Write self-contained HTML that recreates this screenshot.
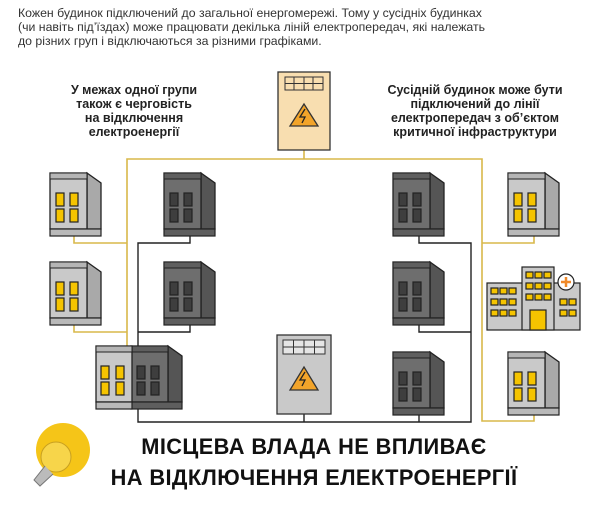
<!DOCTYPE html>
<html><head><meta charset="utf-8"><style>
body{margin:0;background:#fff;width:608px;height:512px;overflow:hidden;font-family:"Liberation Sans",sans-serif}
</style></head><body>
<svg width="608" height="512" viewBox="0 0 608 512" xmlns="http://www.w3.org/2000/svg">
<defs>
<g id="lb">
<polygon points="37,0 51,10 51,56 37,56" fill="#a9a9a9" stroke="#222" stroke-width="1.3"/>
<rect x="0" y="0" width="37" height="56" fill="#c9c9c9" stroke="#222" stroke-width="1.3"/>
<rect x="0" y="0" width="37" height="6" fill="#b5b5b5" stroke="#222" stroke-width="1"/>
<rect x="0" y="56" width="51" height="7" fill="#b9b9b9" stroke="#222" stroke-width="1.2"/>
<g fill="#f5c400" stroke="#222" stroke-width="1.2">
<rect x="6" y="20" width="8" height="13"/><rect x="20" y="20" width="8" height="13"/>
<rect x="6" y="36" width="8" height="13"/><rect x="20" y="36" width="8" height="13"/></g>
</g>
<g id="db">
<polygon points="37,0 51,10 51,56 37,56" fill="#555" stroke="#222" stroke-width="1.3"/>
<rect x="0" y="0" width="37" height="56" fill="#6e6e6e" stroke="#222" stroke-width="1.3"/>
<rect x="0" y="0" width="37" height="6" fill="#5f5f5f" stroke="#222" stroke-width="1"/>
<rect x="0" y="56" width="51" height="7" fill="#5e5e5e" stroke="#222" stroke-width="1.2"/>
<g fill="#3e3e3e" stroke="#222" stroke-width="1.2">
<rect x="6" y="20" width="8" height="13"/><rect x="20" y="20" width="8" height="13"/>
<rect x="6" y="36" width="8" height="13"/><rect x="20" y="36" width="8" height="13"/></g>
</g>
</defs>
<g font-size="12.3" fill="#333">
<text x="18" y="17">Кожен будинок підключений до загальної енергомережі. Тому у сусідніх будинках</text>
<text x="18" y="31">(чи навіть під’їздах) може працювати декілька ліній електропередач, які належать</text>
<text x="18" y="45">до різних груп і відключаються за різними графіками.</text>
</g>
<g font-size="12.5" font-weight="bold" fill="#222" text-anchor="middle">
<text x="134" y="94">У межах одної групи</text>
<text x="134" y="108">також є черговість</text>
<text x="134" y="122">на відключення</text>
<text x="134" y="136">електроенергії</text>
<text x="475" y="94">Сусідній будинок може бути</text>
<text x="475" y="108">підключений до лінії</text>
<text x="475" y="122">електропередач з об’єктом</text>
<text x="475" y="136">критичної інфраструктури</text>
</g>
<g fill="none" stroke="#d9b84a" stroke-width="1.6">
<polyline points="127,346 127,159 482,159 482,421 534,421 534,415"/>
<polyline points="74,236 74,243 127,243"/>
<polyline points="74,325 74,332 127,332"/>
<polyline points="534,236 534,243 482,243"/>
<line x1="304" y1="150" x2="304" y2="159"/>
</g>
<g fill="none" stroke="#222" stroke-width="1.4">
<polyline points="190,236 190,243 138,243 138,422 471,422 471,243 419,243 419,236"/>
<polyline points="190,325 190,332 138,332"/>
<polyline points="419,325 419,332 471,332"/>
<line x1="304" y1="414" x2="304" y2="422"/>
<line x1="419" y1="415" x2="419" y2="422"/>
</g>
<rect x="278" y="72" width="52" height="78" fill="#f8deb0" stroke="#333" stroke-width="1.3"/>
<g fill="#f8deb0" stroke="#333" stroke-width="1"><rect x="285" y="77" width="38" height="13"/>
<line x1="294" y1="77" x2="294" y2="90"/><line x1="304" y1="77" x2="304" y2="90"/><line x1="313" y1="77" x2="313" y2="90"/><line x1="285" y1="83.5" x2="323" y2="83.5"/></g>
<polygon points="304,104 318,126 290,126" fill="#f2a42a" stroke="#333" stroke-width="1.3"/>
<path d="M305,109 L300,117 L305,117 L302,123" fill="none" stroke="#222" stroke-width="1.3"/>
<rect x="277" y="335" width="54" height="79" fill="#c9c9c9" stroke="#333" stroke-width="1.3"/>
<g fill="#e5e5e5" stroke="#333" stroke-width="1"><rect x="283" y="340" width="42" height="14"/>
<line x1="293.5" y1="340" x2="293.5" y2="354"/><line x1="304" y1="340" x2="304" y2="354"/><line x1="314.5" y1="340" x2="314.5" y2="354"/><line x1="283" y1="347" x2="325" y2="347"/></g>
<polygon points="304,367 318,390 290,390" fill="#f2a42a" stroke="#333" stroke-width="1.3"/>
<path d="M305,372 L300,380 L305,380 L302,386" fill="none" stroke="#222" stroke-width="1.3"/>
<use href="#lb" x="50" y="173"/>
<use href="#lb" x="50" y="262"/>
<use href="#db" x="164" y="173"/>
<use href="#db" x="164" y="262"/>
<use href="#db" x="393" y="173"/>
<use href="#db" x="393" y="262"/>
<use href="#lb" x="508" y="173"/>
<use href="#db" x="393" y="352"/>
<use href="#lb" x="508" y="352"/>
<use href="#db" x="131" y="346"/>
<g>
<rect x="96" y="346" width="36" height="56" fill="#c9c9c9" stroke="#222" stroke-width="1.3"/>
<rect x="96" y="346" width="36" height="6" fill="#b5b5b5" stroke="#222" stroke-width="1"/>
<rect x="96" y="402" width="36" height="7" fill="#b9b9b9" stroke="#222" stroke-width="1.2"/>
<g fill="#f5c400" stroke="#222" stroke-width="1.2">
<rect x="101" y="366" width="8" height="13"/><rect x="116" y="366" width="8" height="13"/>
<rect x="101" y="382" width="8" height="13"/><rect x="116" y="382" width="8" height="13"/></g>
</g>
<g stroke="#222" stroke-width="1.2">
<rect x="487" y="283" width="93" height="47" fill="#c9c9c9"/>
<rect x="522" y="267" width="32" height="63" fill="#c9c9c9"/>
<g fill="#f5c400">
<rect x="526" y="272" width="7" height="6"/><rect x="535" y="272" width="7" height="6"/><rect x="544" y="272" width="7" height="6"/>
<rect x="526" y="283" width="7" height="6"/><rect x="535" y="283" width="7" height="6"/><rect x="544" y="283" width="7" height="6"/>
<rect x="526" y="294" width="7" height="6"/><rect x="535" y="294" width="7" height="6"/><rect x="544" y="294" width="7" height="6"/>
<rect x="491" y="288" width="7" height="6"/><rect x="500" y="288" width="7" height="6"/><rect x="509" y="288" width="7" height="6"/>
<rect x="491" y="299" width="7" height="6"/><rect x="500" y="299" width="7" height="6"/><rect x="509" y="299" width="7" height="6"/>
<rect x="491" y="310" width="7" height="6"/><rect x="500" y="310" width="7" height="6"/><rect x="509" y="310" width="7" height="6"/>
<rect x="560" y="299" width="7" height="6"/><rect x="569" y="299" width="7" height="6"/>
<rect x="560" y="310" width="7" height="6"/><rect x="569" y="310" width="7" height="6"/>
<rect x="530" y="310" width="16" height="20"/></g>
<circle cx="566" cy="282" r="8" fill="#fff"/>
</g>
<path d="M566,277 V287 M561,282 H571" stroke="#f08a2a" stroke-width="2.5"/>
<circle cx="63" cy="450" r="27" fill="#f5c518"/>
<circle cx="56" cy="457" r="15" fill="#f7d54a" stroke="#c8a020" stroke-width="1"/>
<path d="M45,466 L34,480 L40,486 L53,474" fill="#bbb" stroke="#777" stroke-width="1"/>
<g font-size="21.8" fill="#111" text-anchor="middle" font-weight="bold" letter-spacing="0.4">
<text x="314" y="454">МІСЦЕВА ВЛАДА НЕ ВПЛИВАЄ</text>
<text x="314" y="485">НА ВІДКЛЮЧЕННЯ ЕЛЕКТРОЕНЕРГІЇ</text>
</g>
</svg>
</body></html>
